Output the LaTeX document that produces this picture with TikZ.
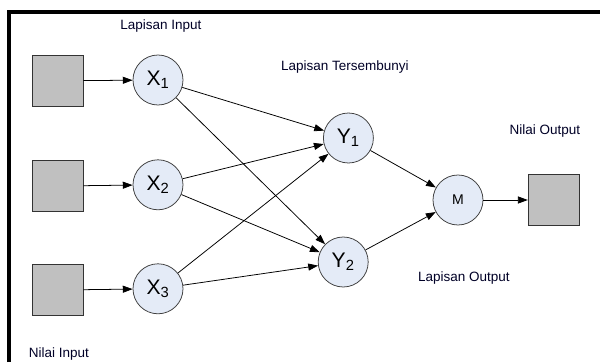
\documentclass[tikz,border=0pt]{standalone}
\usepackage{fontspec}
\setmainfont{Liberation Sans}
\usetikzlibrary{arrows.meta}

\definecolor{boxgray}{RGB}{192,192,192}
\definecolor{nodeblue}{RGB}{228,235,247}

\tikzset{
  valbox/.style={draw=black!80,fill=boxgray,minimum size=1.27cm,inner sep=0pt},
  neuron/.style={circle,draw=black!75,fill=nodeblue,minimum size=1.25cm,inner sep=0pt,font=\fontsize{15}{15}\selectfont},
  caption/.style={font=\fontsize{9.6}{10}\selectfont,text=black!85!blue}
}

\begin{document}
\begin{tikzpicture}[>={Triangle[length=7pt,width=5pt]},line width=0.55pt,every text node part/.style={align=center}]

\useasboundingbox (0,0) rectangle (15,9.05);
\draw [line width=2.2pt] (0.225,0) -- (0.225,8.75) -- (15.1,8.75);

%%%%%%%%%%%%%%%%%%%%%%%%%%%%%%%%%%%%%%

\node[valbox] (in1) at (1.44,7.03) {};
\node[valbox] (in2) at (1.44,4.40) {};
\node[valbox] (in3) at (1.44,1.80) {};

\node[neuron] (x1) at (3.95,7.05) {X\textsubscript{1}};
\node[neuron] (x2) at (3.95,4.43) {X\textsubscript{2}};
\node[neuron] (x3) at (3.95,1.83) {X\textsubscript{3}};

%%%%%%%%%%%%%%%%%%%%%%%%%%%%%%%%%%%%%%

\node[neuron] (y1) at (8.71,5.60) {Y\textsubscript{1}};
\node[neuron] (y2) at (8.58,2.50) {Y\textsubscript{2}};

\node[neuron,font=\fontsize{10}{10}\selectfont] (m) at (11.45,4.05) {M};
\node[valbox] (out) at (13.84,4.05) {};

%%%%%%%%%%%%%%%%%%%%%%%%%%%%%%%%%%%%%%

\node[caption] (capin) at (4.02,8.40) {Lapisan Input};
\node[caption] (caphid) at (8.62,7.38) {Lapisan Tersembunyi};
\node[caption] (capnout) at (13.62,5.78) {Nilai Output};
\node[caption] (capout) at (11.6,2.10) {Lapisan Output};
\node[caption] (capnin) at (1.47,0.21) {Nilai Input};

%%%%%%%%%%%%%%%%%%%%%%%%%%%%%%%%%%%%%%

\draw[->] (in1) -- (x1);
\draw[->] (in2) -- (x2);
\draw[->] (in3) -- (x3);

\foreach \a in {x1,x2,x3}
  \foreach \b in {y1,y2}
    \draw[->] (\a) -- (\b);

\draw[->] (y1) -- (m);
\draw[->] (y2) -- (m);
\draw[->] (m) -- (out);

\end{tikzpicture}
\end{document}
